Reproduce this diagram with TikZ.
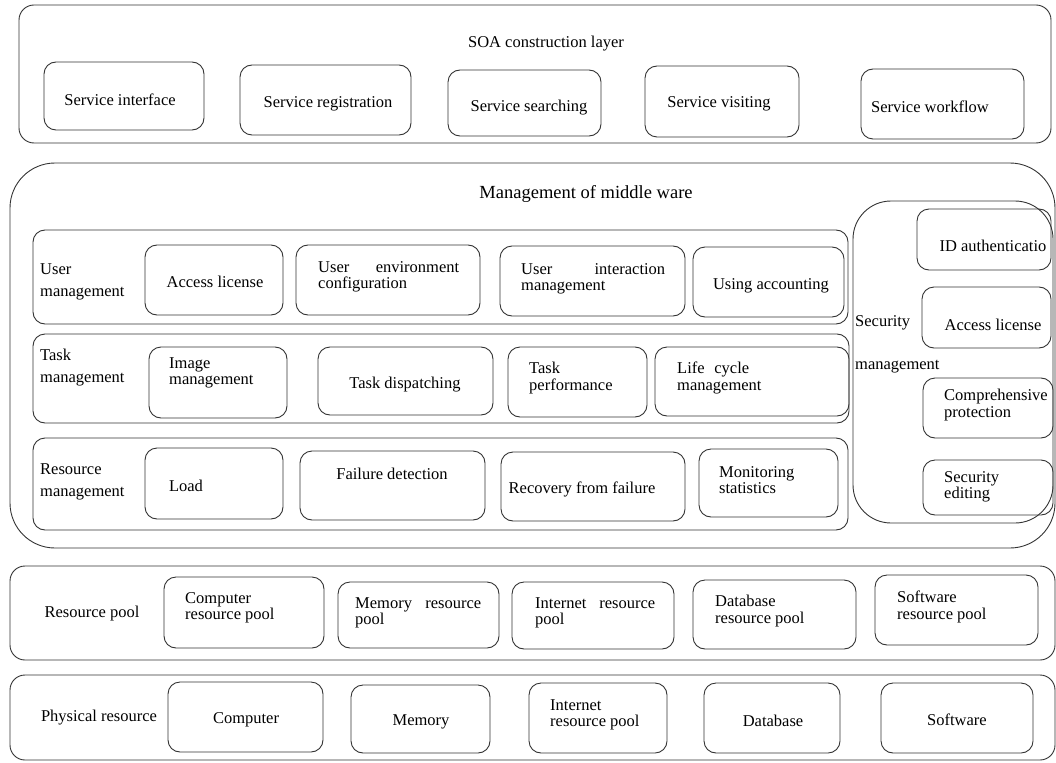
\documentclass[tikz,border=0pt]{standalone}
\usepackage{fontspec}
\setmainfont{Liberation Serif}
\tikzset{
  bx/.style={draw=black!80, line width=0.9pt, rounded corners=12pt, inner sep=0pt, outer sep=0pt},
  tx/.style={font=\fontsize{16.5}{16.5}\selectfont, inner sep=0pt, align=left},
  lw/.style={tx, anchor=west},
  ttl/.style={font=\fontsize{18.5}{20}\selectfont, inner sep=0pt},
  rowlbl/.style={font=\fontsize{16.5}{22}\selectfont, inner sep=0pt, align=left, anchor=west},
}
\newcommand\bxx[6][]{\node[bx,#1,anchor=north west,minimum width={(#5-#3)*1pt},minimum height={(#6-#4)*1pt}] (#2) at (#3,#4) {};}
\begin{document}
\begin{tikzpicture}[x=1pt,y=-1pt]
\useasboundingbox (0,0) rectangle (1056,762);
% ---------- SOA construction layer ----------
\bxx[rounded corners=15pt]{soa}{19}{5}{1051}{143}
\node[tx] (soaT) at (546,44) {SOA construction layer};
\bxx{si}{44}{62}{204}{130}   \node[tx] (siT) at (120,100) {Service interface};
\bxx{sr}{240}{65}{411}{135}  \node[tx] (srT) at (328,104) {Service registration};
\bxx{ss}{448}{70}{601}{136}  \node[tx] (ssT) at (529,108) {Service searching};
\bxx{sv}{645}{66}{799}{137}  \node[tx] (svT) at (719,104) {Service visiting};
\bxx{sw}{861}{69}{1024}{139} \node[tx] (swT) at (930,107) {Service workflow};
% ---------- Management of middle ware ----------
\bxx[rounded corners=45pt]{mw}{10}{163}{1055}{548}
\node[ttl] (mwT) at (586,194) {Management of middle ware};
% user management row
\bxx{um}{33}{230}{848}{324}
\node[rowlbl] (umT) at (40,282) {User\\management};
\bxx{al1}{145}{245}{283}{315} \node[tx] (al1T) at (215,282) {Access license};
\bxx{uec}{296}{245}{480}{315} \node[lw] (uecT) at (318,277) {\makebox[141pt][s]{User environment}\\configuration};
\bxx{uim}{500}{246}{685}{316} \node[lw] (uimT) at (521,279) {\makebox[144pt][s]{User interaction}\\management};
\bxx{ua}{693}{247}{844}{317}  \node[tx] (uaT) at (771,286) {Using accounting};
% task management row
\bxx{tm}{33}{334}{849}{423}
\node[rowlbl] (tmT) at (40,368) {Task\\management};
\bxx{im}{149}{347}{287}{418}  \node[lw] (imT) at (169,373) {Image\\management};
\bxx{td}{318}{347}{493}{415}  \node[tx] (tdT) at (405,385) {Task dispatching};
\bxx{tp}{508}{347}{647}{417}  \node[lw] (tpT) at (529,378) {Task\\performance};
\bxx{lc}{655}{347}{849}{416}  \node[lw] (lcT) at (677,378) {\makebox[72pt][s]{Life cycle}\\management};
% resource management row
\bxx{rm}{33}{438}{848}{530}
\node[rowlbl] (rmT) at (40,482) {Resource\\management};
\bxx{ld}{145}{448}{283}{519}  \node[tx] (ldT) at (186,486) {Load};
\bxx{fd}{300}{451}{485}{520}  \node[tx] (fdT) at (392,474) {Failure detection};
\bxx{rf}{501}{452}{685}{521}  \node[tx] (rfT) at (582,489) {Recovery from failure};
\bxx{ms}{699}{449}{838}{517}  \node[lw] (msT) at (719,480) {Monitoring\\statistics};
% security management
\bxx[rounded corners=38pt]{sec}{853}{201}{1053}{523}
\node[tx, anchor=west] (secT1) at (855,323) {Security};
\node[tx, anchor=west] (secT2) at (855,367) {management};
\bxx{ida}{917}{209}{1051}{270} \node[tx] (idaT) at (993,246) {ID authenticatio};
\bxx{al2}{922}{287}{1051}{348} \node[tx] (al2T) at (993,325) {Access license};
\bxx{cp}{923}{378}{1053}{438}  \node[lw] (cpT) at (944,405) {Comprehensive\\protection};
\bxx{se}{923}{460}{1053}{515}  \node[lw] (seT) at (944,487) {Security\\editing};
% ---------- Resource pool ----------
\bxx[rounded corners=15pt]{rp}{10}{566}{1055}{660}
\node[tx] (rpT) at (92,614) {Resource pool};
\bxx{crp}{164}{577}{324}{648}  \node[lw] (crpT) at (185,608) {Computer\\resource pool};
\bxx{mrp}{338}{582}{499}{648}  \node[lw] (mrpT) at (355,613) {\makebox[126pt][s]{Memory resource}\\pool};
\bxx{irp}{512}{582}{674}{649}  \node[lw] (irpT) at (535,613) {\makebox[120pt][s]{Internet resource}\\pool};
\bxx{drp}{693}{580}{856}{649}  \node[lw] (drpT) at (715,611) {Database\\resource pool};
\bxx{srp}{875}{575}{1038}{645} \node[lw] (srpT) at (897,607) {Software\\resource pool};
% ---------- Physical resource ----------
\bxx[rounded corners=15pt]{pr}{10}{675}{1055}{760}
\node[tx] (prT) at (99,718) {Physical resource};
\bxx{pc}{168}{682}{323}{752}   \node[tx] (pcT) at (246,720) {Computer};
\bxx{pm}{351}{685}{490}{753}   \node[tx] (pmT) at (421,722) {Memory};
\bxx{pi}{529}{683}{667}{753}   \node[lw] (piT) at (550,715) {Internet\\resource pool};
\bxx{pd}{704}{683}{840}{753}   \node[tx] (pdT) at (773,721) {Database};
\bxx{ps}{881}{683}{1033}{753}  \node[tx] (psT) at (957,720) {Software};
\end{tikzpicture}
\end{document}
